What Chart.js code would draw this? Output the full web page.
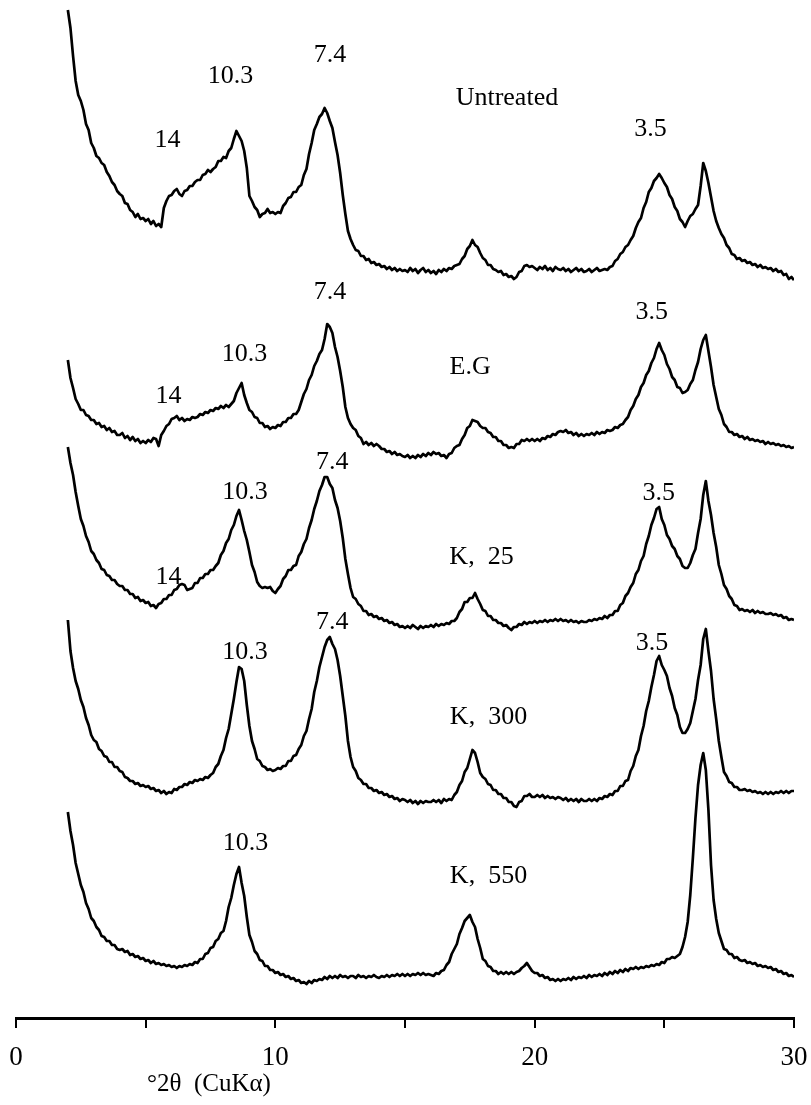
<!DOCTYPE html>
<html>
<head>
<meta charset="utf-8">
<title>XRD patterns</title>
<script src="https://cdn.jsdelivr.net/npm/chart.js@4"></script>
<style>
  html, body { margin: 0; padding: 0; background: #fff; }
  #wrap { width: 811px; height: 1105px; }
</style>
</head>
<body>
<div id="wrap"><canvas id="xrd" width="811" height="1105"></canvas></div>
<script>
// Step scan: 2.0 to 30.0 degrees 2-theta, 0.1 degree per step.
const scanStart = 2.0;
const scanStep = 0.1;

// Stacked intensities (patterns already offset vertically), one value per step.
const untreated = [
  1010,992,964,939,925,919,910,896,890,877,
  872,864,862,857,855,848,844,838,835,829,
  826,824,817,816,810,808,803,806,801,802,
  799,801,796,799,794,796,793,812,819,824,
  825,829,831,826,824,829,830,834,834,838,
  840,840,845,846,850,848,851,853,859,859,
  863,862,869,872,881,889,884,879,869,852,
  824,819,813,810,803,806,807,811,807,808,
  806,808,807,814,817,822,823,828,828,833,
  835,845,851,866,877,890,896,903,906,912,
  907,899,892,878,865,847,825,806,789,781,
  775,770,769,764,764,760,761,757,758,755,
  756,753,754,751,753,750,752,749,751,749,
  750,748,752,749,751,747,750,752,748,750,
  747,749,746,750,748,751,749,752,751,754,
  755,756,761,764,771,774,780,775,773,767,
  762,760,755,755,751,750,748,749,745,746,
  743,744,741,743,748,749,754,755,753,754,
  752,750,753,751,754,750,752,749,753,751,
  750,752,749,751,748,750,752,749,751,748,
  749,751,748,750,752,749,750,751,750,753,
  754,759,761,766,768,773,775,780,784,792,
  798,802,812,818,828,832,839,842,846,842,
  837,833,825,821,813,809,801,798,793,799,
  804,806,811,815,834,857,849,837,823,809,
  799,792,786,782,775,772,766,765,761,762,
  759,760,757,758,755,756,753,755,752,753,
  751,752,749,751,748,749,745,746,741,743,
  740
];

const ethyleneGlycol = [
  660,642,632,621,616,610,610,605,604,600,
  600,596,597,593,594,590,592,588,589,585,
  585,587,582,584,580,583,579,581,577,579,
  577,580,578,582,581,574,585,589,594,596,
  601,602,604,600,602,599,601,600,603,602,
  603,606,605,608,607,610,609,612,611,614,
  612,615,613,616,619,627,632,637,625,617,
  610,608,603,602,597,597,593,594,591,593,
  592,595,594,598,598,602,602,606,606,610,
  618,626,631,640,645,654,659,666,670,681,
  696,693,687,673,663,649,633,613,602,596,
  592,590,584,582,576,578,575,577,574,576,
  574,571,571,568,569,566,568,565,566,564,
  563,565,562,564,562,565,563,566,564,567,
  565,568,566,567,564,565,562,566,567,572,
  574,575,581,585,592,594,600,599,598,594,
  592,592,588,587,583,583,579,579,575,575,
  572,573,572,576,576,580,579,581,579,581,
  579,581,579,582,581,584,583,586,585,588,
  589,588,590,587,588,585,587,584,586,584,
  586,585,587,585,588,586,588,587,590,589,
  590,593,592,595,596,600,603,610,614,621,
  625,633,637,645,649,657,662,671,677,670,
  665,656,651,643,640,633,632,627,628,630,
  636,640,650,658,671,680,685,669,653,635,
  623,611,605,596,593,588,588,585,586,583,
  584,581,583,580,581,579,580,578,579,576,
  578,576,577,575,576,574,575,573,574,572,
  573
];

const k25 = [
  573,557,545,528,514,501,494,484,478,469,
  466,460,457,451,450,445,444,440,440,436,
  434,434,430,430,426,426,422,423,419,420,
  417,418,414,415,412,416,417,421,421,425,
  425,430,431,435,436,435,430,431,432,437,
  437,442,442,446,446,450,450,454,457,465,
  469,477,481,490,495,504,510,500,489,480,
  468,455,448,438,434,432,433,432,433,429,
  427,431,434,441,444,450,450,454,455,464,
  468,476,481,492,500,511,519,529,535,543,
  543,536,532,520,512,499,482,461,446,432,
  423,421,416,414,409,409,405,406,403,404,
  401,402,399,400,397,398,395,396,393,394,
  392,394,392,395,393,391,394,392,394,393,
  395,393,396,394,396,395,397,396,399,399,
  402,408,411,418,418,422,422,427,421,416,
  410,409,404,404,400,400,397,397,394,395,
  392,390,393,393,396,395,398,396,398,397,
  399,397,399,398,400,398,400,399,401,399,
  401,399,400,398,400,398,399,397,399,398,
  398,400,399,401,400,402,401,404,402,405,
  405,409,409,415,417,424,427,433,437,446,
  450,459,464,476,484,495,502,511,513,501,
  495,485,481,474,471,464,461,454,452,452,
  457,465,471,487,501,525,539,519,505,487,
  473,455,446,435,431,424,421,415,414,410,
  411,409,410,408,410,407,409,407,408,406,
  406,407,405,406,404,405,402,403,400,401,
  400
];

const k300 = [
  400,369,352,339,331,320,313,302,295,285,
  280,278,271,269,264,263,258,258,253,253,
  249,248,243,242,239,239,236,237,234,235,
  233,234,231,232,229,230,227,229,226,228,
  227,231,230,233,233,236,235,238,237,240,
  239,241,240,243,242,245,247,253,256,264,
  270,282,291,306,321,338,353,351,339,315,
  294,279,271,261,259,254,253,250,251,249,
  250,252,251,254,254,259,259,264,265,271,
  275,284,289,301,311,328,339,353,363,373,
  380,383,376,371,360,344,324,304,279,263,
  253,249,242,240,236,236,232,232,229,230,
  227,228,225,226,223,224,221,222,219,221,
  220,218,220,217,219,216,219,217,219,218,
  218,220,218,220,217,221,219,221,220,225,
  228,235,239,248,252,261,270,267,258,247,
  243,241,236,235,230,230,226,226,222,222,
  218,218,214,213,218,219,224,224,226,223,
  223,225,223,225,222,224,222,223,221,223,
  222,220,222,219,221,219,221,218,221,219,
  219,221,219,221,219,222,221,224,223,226,
  225,229,229,234,234,239,240,249,254,264,
  270,284,294,309,319,333,345,359,364,355,
  350,344,332,324,312,305,293,287,287,291,
  297,309,321,340,355,381,391,369,349,321,
  301,279,263,248,244,238,237,233,233,230,
  230,231,229,230,228,229,227,228,226,228,
  226,228,226,228,227,229,227,229,227,229,
  229
];

const k550 = [
  208,189,175,157,146,135,128,117,111,102,
  99,93,90,84,83,79,79,75,75,71,
  70,71,68,69,65,66,63,64,61,62,
  59,60,57,59,56,57,55,56,54,55,
  53,54,52,54,53,55,54,56,55,58,
  57,61,61,66,67,72,73,79,81,87,
  89,99,113,122,135,146,153,137,124,103,
  85,78,69,66,60,59,54,54,50,50,
  47,48,45,46,43,44,41,42,39,40,
  37,38,36,39,37,40,39,41,40,43,
  41,44,42,44,42,45,43,44,42,44,
  44,42,45,43,44,42,44,43,45,43,
  42,44,43,45,43,45,44,46,44,46,
  44,46,44,46,45,47,45,47,45,46,
  45,44,47,46,49,50,55,58,66,71,
  76,86,92,99,102,105,98,93,81,72,
  61,59,54,53,49,49,46,48,46,48,
  46,48,46,48,49,52,54,57,53,49,
  47,47,44,45,42,43,40,41,39,41,
  39,41,40,42,40,43,41,43,42,44,
  42,45,43,45,44,46,44,47,45,48,
  46,49,47,50,48,51,49,52,51,53,
  51,53,52,54,53,55,54,56,55,58,
  57,61,61,63,62,64,66,73,83,98,
  125,162,202,235,255,267,250,210,155,120,
  101,87,79,71,70,66,66,62,63,60,
  59,60,57,58,56,57,54,55,53,54,
  52,53,50,51,48,49,46,47,44,45,
  43
];

const patterns = [untreated, ethyleneGlycol, k25, k300, k550];
const patternNames = ['Untreated', 'E.G', 'K,  25', 'K,  300', 'K,  550'];

// x-axis: ticks every 5 degrees, numbers only on these
const axisTickLabels = [0, 10, 20, 30];
const axisTitle = '°2θ  (CuKα)';

// Annotations: d-spacings (Å) and treatment names, anchored in data coordinates
const peakLabels = [
  { text: '14',        x: 5.84,  y: 880 },
  { text: '10.3',      x: 8.27,  y: 944 },
  { text: '7.4',       x: 12.11, y: 965 },
  { text: patternNames[0], x: 18.93, y: 922 },
  { text: '3.5',       x: 24.47, y: 891 },

  { text: '14',        x: 5.88,  y: 624 },
  { text: '10.3',      x: 8.81,  y: 666 },
  { text: '7.4',       x: 12.11, y: 728 },
  { text: patternNames[1], x: 17.51, y: 653 },
  { text: '3.5',       x: 24.51, y: 708 },

  { text: '14',        x: 5.88,  y: 443 },
  { text: '10.3',      x: 8.83,  y: 528 },
  { text: '7.4',       x: 12.19, y: 558 },
  { text: patternNames[2], x: 17.95, y: 463 },
  { text: '3.5',       x: 24.78, y: 527 },

  { text: '10.3',      x: 8.83,  y: 368 },
  { text: '7.4',       x: 12.19, y: 398 },
  { text: patternNames[3], x: 18.22, y: 303 },
  { text: '3.5',       x: 24.52, y: 377 },

  { text: '10.3',      x: 8.85,  y: 177 },
  { text: patternNames[4], x: 18.22, y: 144 }
];

const serif = '"Liberation Serif", "DejaVu Serif", "Times New Roman", serif';

const datasets = patterns.map((vals, k) => ({
  label: patternNames[k],
  data: vals.map((v, i) => ({ x: scanStart + i * scanStep, y: v })),
  borderColor: '#000',
  borderWidth: 2.7,
  borderJoinStyle: 'round',
  pointRadius: 0,
  tension: 0,
  fill: false
}));

const textPlugin = {
  id: 'xrdText',
  afterDatasetsDraw(chart) {
    const { ctx, scales: { x, y }, chartArea } = chart;
    ctx.save();
    ctx.fillStyle = '#000';
    ctx.font = '26px ' + serif;
    ctx.textAlign = 'center';
    ctx.textBaseline = 'middle';
    peakLabels.forEach(l => {
      ctx.fillText(l.text, x.getPixelForValue(l.x), y.getPixelForValue(l.y));
    });
    ctx.font = '25px ' + serif;
    ctx.textAlign = 'left';
    ctx.fillText(axisTitle, x.getPixelForValue(5.05), chartArea.bottom + 66);
    ctx.restore();
  }
};

new Chart(document.getElementById('xrd'), {
  type: 'line',
  data: { datasets },
  options: {
    responsive: false,
    animation: false,
    devicePixelRatio: 1,
    parsing: false,
    layout: { padding: { left: 16, right: 17, top: 0, bottom: 0 } },
    plugins: { legend: { display: false }, tooltip: { enabled: false } },
    scales: {
      x: {
        type: 'linear',
        min: 0,
        max: 30,
        afterFit(scale) {
          scale.height = 87;
          scale.paddingLeft = 0;
          scale.paddingRight = 0;
        },
        border: { display: true, color: '#000', width: 3 },
        grid: {
          display: true,
          drawOnChartArea: false,
          drawTicks: true,
          tickLength: 10,
          tickWidth: 2,
          color: '#000',
          lineWidth: 2
        },
        ticks: {
          stepSize: 5,
          color: '#000',
          padding: 14,
          maxRotation: 0,
          autoSkip: false,
          font: { family: serif, size: 27 },
          callback: v => axisTickLabels.includes(v) ? String(v) : ''
        }
      },
      y: {
        type: 'linear',
        display: false,
        min: 2,
        max: 1020
      }
    }
  },
  plugins: [textPlugin]
});
</script>
</body>
</html>
